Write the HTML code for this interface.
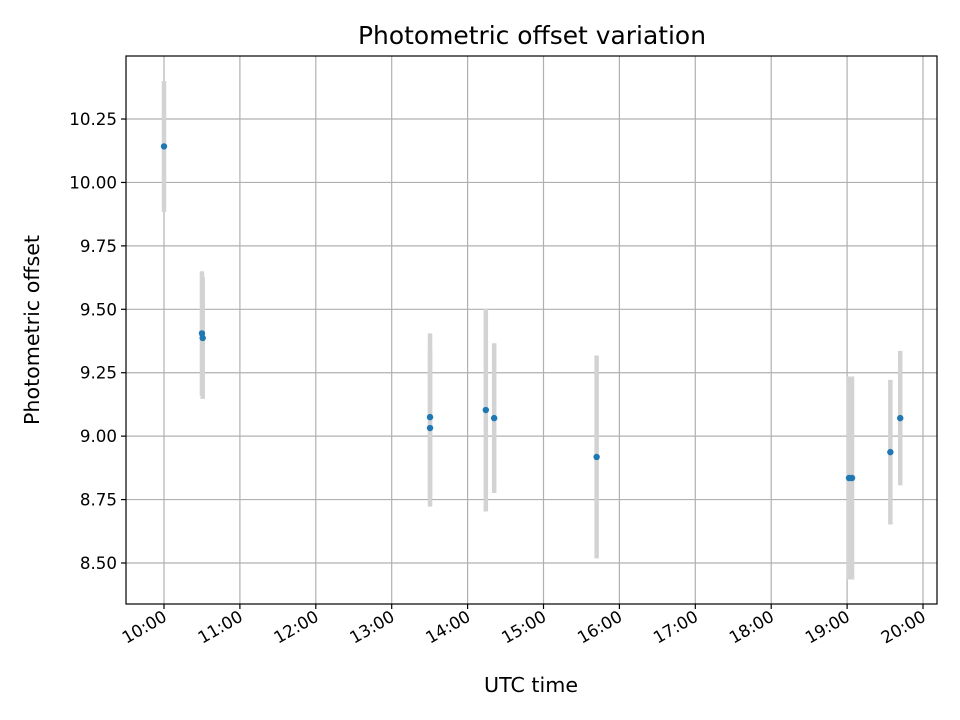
<!DOCTYPE html>
<html><head><meta charset="utf-8"><style>
html,body{margin:0;padding:0;background:#fff;}
svg{display:block;font-family:"DejaVu Sans","Liberation Sans",sans-serif;}
</style></head><body>
<svg id="chart" width="960" height="720" viewBox="0 0 960 720">
<rect width="960" height="720" fill="#fff"/>
<g id="grid"></g>
<g id="bars"></g>
<g id="pts"></g>
<rect x="126" y="56" width="811" height="548" fill="none" stroke="#000" stroke-width="1.2"/>
<g id="ticks"></g>
<text x="532" y="44" text-anchor="middle" font-size="25" textLength="348" lengthAdjust="spacingAndGlyphs" fill="#000">Photometric offset variation</text>
<text x="531" y="692" text-anchor="middle" font-size="20.8" textLength="94" lengthAdjust="spacingAndGlyphs" fill="#000">UTC time</text>
<text transform="translate(39,330) rotate(-90)" text-anchor="middle" font-size="20.8" textLength="190" lengthAdjust="spacingAndGlyphs" fill="#000">Photometric offset</text>
</svg>
<script>
const times = [10.0, 10.5, 10.51, 13.505, 13.505, 14.24, 14.35, 15.70, 19.025, 19.065, 19.57, 19.70];
const offsets = [10.142, 9.405, 9.387, 9.075, 9.032, 9.103, 9.071, 8.918, 8.835, 8.835, 8.937, 9.071];
const errors = [0.258, 0.245, 0.24, 0.33, 0.31, 0.40, 0.295, 0.40, 0.40, 0.40, 0.285, 0.265];
const yTicks = [8.5, 8.75, 9.0, 9.25, 9.5, 9.75, 10.0, 10.25];
const yTickLabels = ["8.50", "8.75", "9.00", "9.25", "9.50", "9.75", "10.00", "10.25"];
const xTicks = [10, 11, 12, 13, 14, 15, 16, 17, 18, 19, 20];
const xTickLabels = ["10:00","11:00","12:00","13:00","14:00","15:00","16:00","17:00","18:00","19:00","20:00"];

const NS = "http://www.w3.org/2000/svg";
function xs(h){ return 164 + (h - 10) * 75.9; }
function ys(v){ return 563 - (v - 8.5) * 253.7; }
function mk(tag, attrs, parent){
  const e = document.createElementNS(NS, tag);
  for (const k in attrs) e.setAttribute(k, attrs[k]);
  parent.appendChild(e);
  return e;
}
const grid = document.getElementById('grid');
const ticks = document.getElementById('ticks');
const bars = document.getElementById('bars');
const pts = document.getElementById('pts');

yTicks.forEach((v, i) => {
  const y = ys(v);
  const g = mk('line', {x1:126, x2:937, y1:y, y2:y, stroke:'#b0b0b0', 'stroke-width':1.2}, grid);
  
  
  const t = mk('line', {x1:121, x2:126, y1:y, y2:y, stroke:'#000', 'stroke-width':1.2}, ticks);
  
  
  const l = mk('text', {x:117, y:y + 6, 'text-anchor':'end', 'font-size':16.7, fill:'#000'}, ticks);
  l.textContent = yTickLabels[i];
  
  
});
xTicks.forEach((h, i) => {
  const x = xs(h);
  const g = mk('line', {x1:x, x2:x, y1:56, y2:604, stroke:'#b0b0b0', 'stroke-width':1.2}, grid);
  
  
  const t = mk('line', {x1:x, x2:x, y1:604, y2:609, stroke:'#000', 'stroke-width':1.2}, ticks);
  
  
  const l = mk('text', {transform:'translate(' + (x + 4) + ',620) rotate(-30)', 'text-anchor':'end', 'font-size':16.7, fill:'#000'}, ticks);
  l.textContent = xTickLabels[i];
  
  
});
times.forEach((h, i) => {
  const x = xs(h);
  const b = mk('line', {x1:x, x2:x, y1:ys(offsets[i] + errors[i]), y2:ys(offsets[i] - errors[i]), stroke:'#d3d3d3', 'stroke-width':4.5}, bars);
  
  
});
times.forEach((h, i) => {
  const c = mk('circle', {cx:xs(h), cy:ys(offsets[i]), r:3.2, fill:'#1f77b4'}, pts);
  
  
});
</script>
</body></html>
